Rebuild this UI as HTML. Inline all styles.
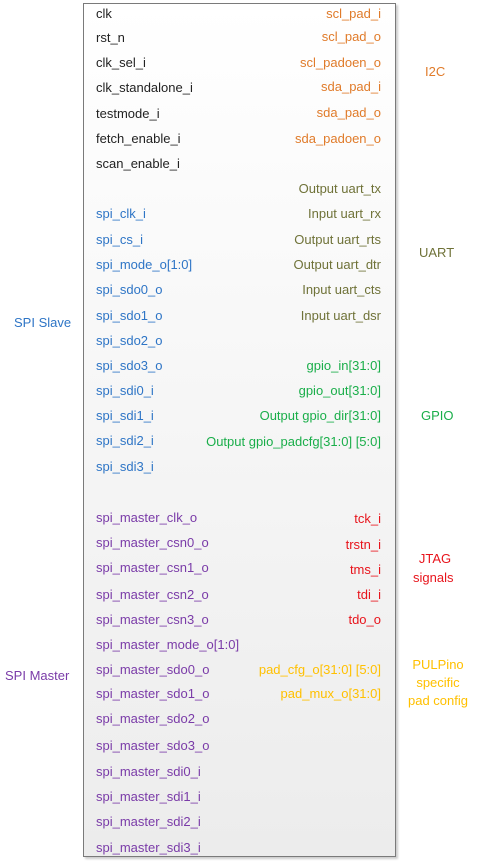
<!DOCTYPE html><html><head><style>
body{margin:0;width:477px;height:864px;background:#fff;position:relative;font-family:"Liberation Sans",sans-serif;font-size:13px;overflow:hidden}
#box{position:absolute;left:83px;top:3px;width:311px;height:852px;border:1.5px solid #7a7a7a;background:linear-gradient(#fff,#ececec);box-shadow:2px 2px 2px #ccc}
.l,.r,.o{position:absolute;line-height:16px;white-space:nowrap}
.l{left:96px}.r{right:96px;text-align:right}
.k{color:#222}.or{color:#e07b2a}.b{color:#2e75c6}.ol{color:#6f7238}.g{color:#1aae4a}.rd{color:#e8141c}.p{color:#7a3ba8}.y{color:#ffc000}
</style></head><body><div id="box"></div>
<div class="l k" style="top:6px">clk</div>
<div class="l k" style="top:30px">rst_n</div>
<div class="l k" style="top:55px">clk_sel_i</div>
<div class="l k" style="top:80px">clk_standalone_i</div>
<div class="l k" style="top:106px">testmode_i</div>
<div class="l k" style="top:131px">fetch_enable_i</div>
<div class="l k" style="top:156px">scan_enable_i</div>
<div class="l b" style="top:206px">spi_clk_i</div>
<div class="l b" style="top:232px">spi_cs_i</div>
<div class="l b" style="top:257px">spi_mode_o[1:0]</div>
<div class="l b" style="top:282px">spi_sdo0_o</div>
<div class="l b" style="top:308px">spi_sdo1_o</div>
<div class="l b" style="top:333px">spi_sdo2_o</div>
<div class="l b" style="top:358px">spi_sdo3_o</div>
<div class="l b" style="top:383px">spi_sdi0_i</div>
<div class="l b" style="top:408px">spi_sdi1_i</div>
<div class="l b" style="top:433px">spi_sdi2_i</div>
<div class="l b" style="top:459px">spi_sdi3_i</div>
<div class="l p" style="top:510px">spi_master_clk_o</div>
<div class="l p" style="top:535px">spi_master_csn0_o</div>
<div class="l p" style="top:560px">spi_master_csn1_o</div>
<div class="l p" style="top:587px">spi_master_csn2_o</div>
<div class="l p" style="top:612px">spi_master_csn3_o</div>
<div class="l p" style="top:637px">spi_master_mode_o[1:0]</div>
<div class="l p" style="top:662px">spi_master_sdo0_o</div>
<div class="l p" style="top:686px">spi_master_sdo1_o</div>
<div class="l p" style="top:711px">spi_master_sdo2_o</div>
<div class="l p" style="top:738px">spi_master_sdo3_o</div>
<div class="l p" style="top:764px">spi_master_sdi0_i</div>
<div class="l p" style="top:789px">spi_master_sdi1_i</div>
<div class="l p" style="top:814px">spi_master_sdi2_i</div>
<div class="l p" style="top:840px">spi_master_sdi3_i</div>
<div class="r or" style="top:6px">scl_pad_i</div>
<div class="r or" style="top:29px">scl_pad_o</div>
<div class="r or" style="top:55px">scl_padoen_o</div>
<div class="r or" style="top:79px">sda_pad_i</div>
<div class="r or" style="top:105px">sda_pad_o</div>
<div class="r or" style="top:131px">sda_padoen_o</div>
<div class="r ol" style="top:181px">Output uart_tx</div>
<div class="r ol" style="top:206px">Input uart_rx</div>
<div class="r ol" style="top:232px">Output uart_rts</div>
<div class="r ol" style="top:257px">Output uart_dtr</div>
<div class="r ol" style="top:282px">Input uart_cts</div>
<div class="r ol" style="top:308px">Input uart_dsr</div>
<div class="r g" style="top:358px">gpio_in[31:0]</div>
<div class="r g" style="top:383px">gpio_out[31:0]</div>
<div class="r g" style="top:408px">Output gpio_dir[31:0]</div>
<div class="r g" style="top:434px">Output gpio_padcfg[31:0] [5:0]</div>
<div class="r rd" style="top:511px">tck_i</div>
<div class="r rd" style="top:537px">trstn_i</div>
<div class="r rd" style="top:562px">tms_i</div>
<div class="r rd" style="top:587px">tdi_i</div>
<div class="r rd" style="top:612px">tdo_o</div>
<div class="r y" style="top:662px">pad_cfg_o[31:0] [5:0]</div>
<div class="r y" style="top:686px">pad_mux_o[31:0]</div>
<div class="o or" style="left:425px;top:64px">I2C</div>
<div class="o ol" style="left:419px;top:245px">UART</div>
<div class="o g" style="left:421px;top:408px">GPIO</div>
<div class="o rd" style="left:413px;top:549px;text-align:center;line-height:19px">&nbsp;JTAG<br>signals</div>
<div class="o y" style="left:408px;top:656px;text-align:center;line-height:18px">PULPino<br>specific<br>pad config</div>
<div class="o b" style="left:14px;top:315px">SPI Slave</div>
<div class="o p" style="left:5px;top:668px">SPI Master</div>
</body></html>
